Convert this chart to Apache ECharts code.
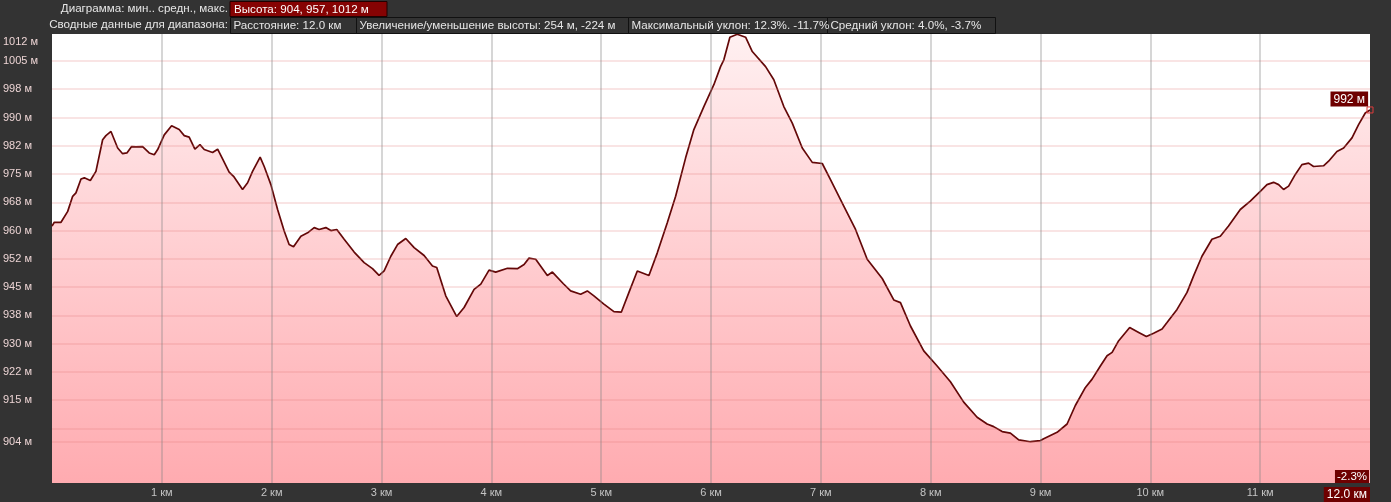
<!DOCTYPE html>
<html>
<head>
<meta charset="utf-8">
<script src="https://cdn.jsdelivr.net/npm/echarts@6/dist/echarts.min.js"></script>
<style>
html,body{margin:0;padding:0;background:#333333;}
#chart{width:1391px;height:502px;}
</style>
</head>
<body>
<div id="chart"></div>
<script>
// ---- data (distance in km, elevation in m) ----
const distKm = [0.000,0.021,0.082,0.143,0.188,0.218,0.264,0.294,0.349,0.400,0.461,0.491,0.537,0.598,0.643,0.682,0.725,0.764,0.825,0.885,0.931,0.962,1.022,1.089,1.158,1.204,1.249,1.301,1.347,1.386,1.462,1.508,1.553,1.613,1.653,1.735,1.781,1.826,1.895,1.932,1.993,2.054,2.114,2.159,2.199,2.266,2.327,2.387,2.432,2.493,2.539,2.593,2.660,2.751,2.842,2.918,2.978,3.024,3.085,3.146,3.221,3.297,3.388,3.464,3.503,3.585,3.685,3.752,3.843,3.904,3.979,4.040,4.147,4.237,4.298,4.343,4.404,4.510,4.556,4.656,4.722,4.813,4.874,4.934,5.025,5.116,5.184,5.253,5.329,5.435,5.511,5.602,5.678,5.769,5.844,5.935,6.026,6.087,6.117,6.172,6.239,6.315,6.376,6.497,6.572,6.663,6.740,6.831,6.922,7.013,7.088,7.209,7.316,7.422,7.559,7.664,7.725,7.816,7.937,8.059,8.180,8.301,8.423,8.514,8.574,8.651,8.726,8.802,8.908,8.999,9.029,9.151,9.242,9.317,9.409,9.470,9.545,9.606,9.652,9.712,9.812,9.894,9.964,10.030,10.107,10.152,10.243,10.334,10.394,10.470,10.561,10.637,10.712,10.819,10.910,11.001,11.062,11.122,11.168,11.213,11.259,11.320,11.380,11.441,11.486,11.577,11.623,11.699,11.760,11.836,11.896,11.957,12.000];
const elevM = [961.2,962.2,962.2,965.1,969.1,970.0,973.7,974.0,973.3,975.7,984.1,985.2,986.3,981.9,980.4,980.6,982.3,982.2,982.3,980.6,980.1,981.5,985.4,987.8,986.8,985.2,984.8,981.6,982.8,981.5,980.7,981.6,979.0,975.5,974.4,970.9,972.7,975.7,979.5,977.0,972.2,965.6,959.9,956.3,955.7,958.5,959.4,960.8,960.3,960.8,960.0,960.3,957.7,954.3,951.5,949.9,948.1,949.3,953.2,956.3,957.9,955.5,953.4,950.6,950.2,942.7,937.2,939.6,944.4,945.8,949.5,949.0,950.0,949.9,951.0,952.7,952.4,948.1,949.0,945.9,944.0,943.1,944.0,942.7,940.5,938.5,938.4,943.6,949.3,948.1,954.1,962.1,969.1,979.3,986.8,992.9,998.7,1003.5,1005.3,1011.3,1012.1,1011.3,1007.5,1003.5,1000.0,992.9,988.5,981.9,978.1,977.8,973.5,966.5,960.3,952.4,947.3,941.6,940.9,934.7,928.1,924.1,919.9,914.5,910.5,908.7,908.0,906.7,906.3,904.5,904.0,904.3,904.8,906.5,908.7,913.6,918.4,920.6,924.1,926.8,927.7,930.8,934.3,933.0,931.9,932.8,933.9,935.6,939.1,943.6,948.0,953.2,957.7,958.5,961.2,965.6,967.8,970.4,972.2,972.8,972.2,970.9,971.8,974.9,977.5,977.9,977.0,977.2,978.4,981.0,981.9,984.6,988.1,991.2,992.0];

const yLabelValues = [1012,1005,997.5,990,982.5,975,967.5,960,952.5,945,937.5,930,922.5,915,904];
const yLabelTexts  = ['1012 м','1005 м','998 м','990 м','982 м','975 м','968 м','960 м','952 м','945 м','938 м','930 м','922 м','915 м','904 м'];
const yGridValues  = [1005,997.5,990,982.5,975,967.5,960,952.5,945,937.5,930,922.5,915,907.5,904];
const xGridValues  = [1,2,3,4,5,6,7,8,9,10,11];
const xMaxLabel = '12.0 км';
const endLabel = '992 м';
const endSlope = '-2.3%';

const headerRow1Label = 'Диаграмма: мин.. средн., макс.';
const headerRow1Value = 'Высота: 904, 957, 1012 м';
const headerRow2Label = 'Сводные данные для диапазона:';
const headerRow2Boxes = ['Расстояние: 12.0 км','Увеличение/уменьшение высоты: 254 м, -224 м','Максимальный уклон: 12.3%. -11.7%','Средний уклон: 4.0%, -3.7%'];

// ---- chart ----
const seriesData = distKm.map((d,i)=>[d, elevM[i]]);
const FAM = '"Liberation Sans", Arial, sans-serif';
const FONT = '11.6px ' + FAM;
const chart = echarts.init(document.getElementById('chart'), null, {renderer:'canvas'});

const boxX = [230, 356, 628, 827, 995];
const graphics = [
  {type:'text', z:10, style:{text:headerRow1Label, x:228, y:9, font:FONT, fill:'#e6e6e6', align:'right', verticalAlign:'middle', textAlign:'right', textVerticalAlign:'middle'}},
  {type:'rect', z:5, shape:{x:230, y:1.5, width:157, height:15}, style:{fill:'#860303', stroke:'#220000', lineWidth:1}},
  {type:'text', z:10, style:{text:headerRow1Value, x:234, y:9.5, font:FONT, fill:'#ffffff', align:'left', verticalAlign:'middle', textAlign:'left', textVerticalAlign:'middle'}},
  {type:'text', z:10, style:{text:headerRow2Label, x:228, y:25, font:FONT, fill:'#e6e6e6', align:'right', verticalAlign:'middle', textAlign:'right', textVerticalAlign:'middle'}}
];
headerRow2Boxes.forEach((t,i)=>{
  graphics.push({type:'rect', z:5, shape:{x:boxX[i]+0.5, y:17.5, width:boxX[i+1]-boxX[i], height:16}, style:{fill:'#333333', stroke:'#111111', lineWidth:1}});
  graphics.push({type:'text', z:10, style:{text:t, x:boxX[i]+3.5, y:25.5, font:FONT, fill:'#e6e6e6', align:'left', verticalAlign:'middle', textAlign:'left', textVerticalAlign:'middle'}});
});
graphics.push({type:'text', z:101, style:{text:endSlope, x:1369, y:483, font:'11.5px ' + FAM, fill:'#ffffff', backgroundColor:'#6e0000', padding:[1,2,0,2], align:'right', verticalAlign:'bottom', textAlign:'right', textVerticalAlign:'bottom'}});

const gridLines = [];
yGridValues.forEach(v=>gridLines.push({yAxis:v, lineStyle:{color:'rgba(225,120,120,0.2)', width:2, type:'solid'}}));
xGridValues.forEach(v=>gridLines.push({xAxis:v, lineStyle:{color:'rgba(130,130,130,0.33)', width:2, type:'solid'}}));

const option = {
  backgroundColor:'#333333',
  animation:false,
  grid:{left:51, right:21, top:34, bottom:18, show:true, backgroundColor:'#ffffff', borderWidth:0},
  xAxis:{
    type:'value', min:0, max:12, interval:1,
    axisLine:{show:false}, axisTick:{show:false}, splitLine:{show:false},
    axisLabel:{
      margin:4, color:'#c4c4c4', fontSize:11, fontFamily:FAM,
      alignMaxLabel:'right',
      formatter:function(v){ if(v===0) return ''; if(v===12) return '{hl|'+xMaxLabel+'}'; return v+' км'; },
      rich:{hl:{backgroundColor:'#6e0000', color:'#ffffff', fontSize:12, padding:[2,3,1,3], fontFamily:FAM}}
    }
  },
  yAxis:{
    type:'value', min:893.05, max:1012.15,
    axisLine:{show:false}, axisTick:{show:false}, splitLine:{show:false},
    axisLabel:{
      customValues:yLabelValues,
      align:'left', margin:49, color:'#ecd4d4', fontSize:11, fontFamily:FAM,
      formatter:function(v){
        let best=0, bd=1e9;
        yLabelValues.forEach((y,i)=>{const d=Math.abs(y-v); if(d<bd){bd=d;best=i;}});
        if(best===0) return '{top|'+yLabelTexts[0]+'}';
        return yLabelTexts[best];
      },
      rich:{top:{padding:[14,0,0,0], color:'#ecd4d4', fontSize:11, fontFamily:FAM}}
    }
  },
  graphic:graphics,
  series:[
    {
      type:'line', z:1, data:seriesData, symbol:'none', silent:true,
      lineStyle:{width:0, opacity:0},
      areaStyle:{
        opacity:1,
        color:new echarts.graphic.LinearGradient(0,34,0,484,[
          {offset:0, color:'#fff0f1'},
          {offset:0.5, color:'#ffcdd0'},
          {offset:1, color:'#ffabb0'}
        ], true)
      }
    },
    {
      type:'line', z:2, data:[], silent:true,
      markLine:{silent:true, symbol:['none','none'], label:{show:false}, animation:false, data:gridLines}
    },
    {
      type:'line', z:3, data:seriesData, symbol:'none', silent:true,
      lineStyle:{color:'#640808', width:1.7},
      markPoint:{
        silent:true,
        data:[{coord:[12, elevM[elevM.length-1]]}],
        symbol:'rect', symbolSize:6,
        itemStyle:{color:'rgba(0,0,0,0)', borderColor:'#e03c3c', borderWidth:1},
        label:{show:true, formatter:endLabel, position:[-36,-15], color:'#ffffff', backgroundColor:'#6e0000', padding:[2,3,1,3], fontSize:12, fontFamily:FAM}
      }
    }
  ]
};
chart.setOption(option);
</script>
</body>
</html>
